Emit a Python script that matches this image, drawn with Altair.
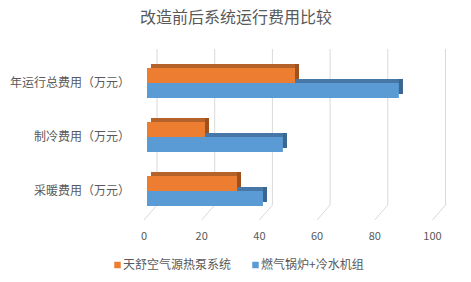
import altair as alt
import pandas as pd

categories = ["年运行总费用（万元）", "制冷费用（万元）", "采暖费用（万元）"]
series = ["天舒空气源热泵系统", "燃气锅炉+冷水机组"]
tianshu = [51.3, 20.1, 31.2]
gas = [87.3, 47.1, 40.2]
x_ticks = [0, 20, 40, 60, 80, 100]
title_text = ["改造前后系统运行费用比较"]

FONT = "Noto Sans CJK SC"
TXT = "#595959"
GRID = "#D9D9D9"
ORANGE, ORANGE_TOP, ORANGE_SIDE = "#ED7D31", "#B4622A", "#A0501C"
BLUE, BLUE_TOP, BLUE_SIDE = "#5B9BD5", "#4677A6", "#3B668F"

rows = []
for c, a, b in zip(categories, tianshu, gas):
    rows.append({"cat": c, "series": series[0], "value": a})
    rows.append({"cat": c, "series": series[1], "value": b})
df = pd.DataFrame(rows)
ticks_df = pd.DataFrame({"v": x_ticks})
cat_df = pd.DataFrame({"cat": categories})

X = alt.Scale(domain=[0, 100], range=[147, 435.5], nice=False, zero=True)
Y = alt.Scale(domain=categories, range=[56, 218], paddingInner=24 / 54, paddingOuter=12 / 54)

base = alt.Chart(df)

grid = alt.Chart(ticks_df).mark_rule(color=GRID, strokeWidth=1, xOffset=10).encode(
    x=alt.X("v:Q", scale=X, axis=None), y=alt.value(49), y2=alt.value(205)
)
floor = alt.Chart(ticks_df).mark_rule(color=GRID, strokeWidth=1, xOffset=10, x2Offset=-3).encode(
    x=alt.X("v:Q", scale=X, axis=None), x2="v:Q", y=alt.value(205), y2=alt.value(220)
)
tick_labels = alt.Chart(ticks_df).mark_text(
    font=FONT, fontSize=11, color=TXT, baseline="middle", align="center", dx=-3
).encode(x=alt.X("v:Q", scale=X, axis=None), y=alt.value(237), text="v:Q")

D = 4


def bars(name, color, xo, yo):
    return base.transform_filter(alt.datum.series == name).mark_bar(
        color=color, size=15, xOffset=xo, x2Offset=xo, yOffset=yo
    ).encode(
        x=alt.X("value:Q", scale=X, axis=None),
        x2=alt.datum(0),
        y=alt.Y("cat:N", scale=Y, axis=None),
    )


def side(name, color, yo):
    return base.transform_filter(alt.datum.series == name).mark_bar(
        color=color, size=15, xOffset=0, x2Offset=D, yOffset=yo
    ).encode(
        x=alt.X("value:Q", scale=X, axis=None),
        x2="value:Q",
        y=alt.Y("cat:N", scale=Y, axis=None),
    )


blue_top = bars(series[1], BLUE_TOP, D, 7.5 - D)
blue_side = side(series[1], BLUE_SIDE, 7.5 - D)
orange_top = bars(series[0], ORANGE_TOP, D, -7.5 - D)
orange_side = side(series[0], ORANGE_SIDE, -7.5 - D)
blue_fr = bars(series[1], BLUE, 0, 7.5)
orange_fr = bars(series[0], ORANGE, 0, -7.5)

ylabels = alt.Chart(cat_df).mark_text(
    font=FONT, fontSize=12, color=TXT, align="right", baseline="middle"
).encode(y=alt.Y("cat:N", scale=Y, axis=None), x=alt.value(130), text="cat:N")

title = alt.Chart(pd.DataFrame({"t": title_text})).mark_text(
    font=FONT, fontSize=16, color=TXT, align="center", baseline="middle"
).encode(x=alt.value(236), y=alt.value(18), text="t:N")

leg_df0 = pd.DataFrame({"s": [series[0]]})
leg_df1 = pd.DataFrame({"s": [series[1]]})
leg_sq0 = alt.Chart(leg_df0).mark_square(size=42, color=ORANGE, opacity=1).encode(
    x=alt.value(117.5), y=alt.value(265))
leg_tx0 = alt.Chart(leg_df0).mark_text(font=FONT, fontSize=12, color=TXT, align="left", baseline="middle").encode(
    x=alt.value(123), y=alt.value(265), text="s:N")
leg_sq1 = alt.Chart(leg_df1).mark_square(size=42, color=BLUE, opacity=1).encode(
    x=alt.value(255.5), y=alt.value(265))
leg_tx1 = alt.Chart(leg_df1).mark_text(font=FONT, fontSize=12, color=TXT, align="left", baseline="middle").encode(
    x=alt.value(261), y=alt.value(265), text="s:N")

chart = alt.layer(
    grid, floor, tick_labels, blue_top, blue_side, orange_top, orange_side, blue_fr, orange_fr,
    ylabels, title, leg_sq0, leg_tx0, leg_sq1, leg_tx1
).properties(
    width=471, height=282, autosize=alt.AutoSizeParams(type="none"), padding=0,
    background="white"
).configure_view(stroke=None)

chart.save("out.html", embed_options={"renderer": "svg", "actions": False})
